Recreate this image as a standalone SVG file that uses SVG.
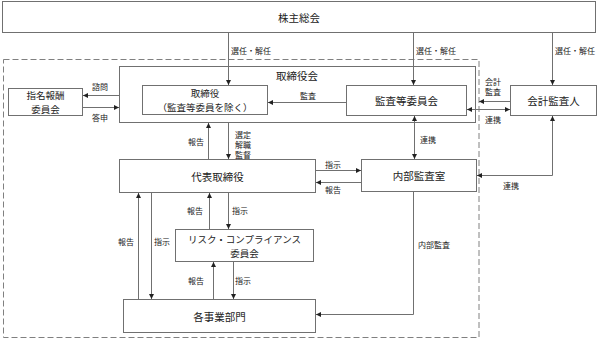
<svg xmlns="http://www.w3.org/2000/svg" width="607" height="339" viewBox="0 0 607 339">
<style>
.box{fill:#fff;stroke:#707070;stroke-width:1}
.t{font-family:"Noto Sans CJK JP","Noto Sans",sans-serif;font-size:10.5px;fill:#222;text-anchor:middle;dominant-baseline:central}
.t2{font-family:"Noto Sans CJK JP","Noto Sans",sans-serif;font-size:9.5px;fill:#222;text-anchor:middle;dominant-baseline:central}
.l{font-family:"Noto Sans CJK JP","Noto Sans",sans-serif;font-size:8px;fill:#222;dominant-baseline:central}
.c{fill:none;stroke:#707070;stroke-width:1}
</style>
<defs>
<marker id="ah" viewBox="0 0 6 6" refX="6" refY="3" markerWidth="5" markerHeight="5" orient="auto-start-reverse" markerUnits="userSpaceOnUse">
<path d="M0,0 L6,3 L0,6 Z" fill="#222"/>
</marker>
</defs>
<rect x="0" y="0" width="607" height="339" fill="#fff"/>
<rect x="3.5" y="59.5" width="475.5" height="278" fill="none" stroke="#808080" stroke-dasharray="6,3"/>
<g id="n-kabunushi"><rect class="box" x="2.5" y="1.5" width="593" height="31"/><text class="t" x="299" y="17">株主総会</text></g>
<g id="n-torishimariyakukai"><rect class="box" x="119.5" y="66.5" width="356" height="56"/><text class="t" x="297" y="75">取締役会</text></g>
<g id="n-shimei"><rect class="box" x="8.5" y="88.5" width="74" height="27"/><text class="t2" x="45.5" y="95">指名報酬</text><text class="t2" x="45.5" y="109">委員会</text></g>
<g id="n-torishimariyaku"><rect class="box" x="142.5" y="85.5" width="125" height="29"/><text class="t2" x="205" y="93">取締役</text><text class="t2" x="205" y="107">（監査等委員を除く）</text></g>
<g id="n-kansatou"><rect class="box" x="346.5" y="85.5" width="120" height="30"/><text class="t" x="406.5" y="100.5">監査等委員会</text></g>
<g id="n-kaikei"><rect class="box" x="510.5" y="85.5" width="86" height="30"/><text class="t" x="553.5" y="100.5">会計監査人</text></g>
<g id="n-daihyo"><rect class="box" x="119.5" y="159.5" width="196" height="33"/><text class="t" x="217.5" y="176">代表取締役</text></g>
<g id="n-naibu"><rect class="box" x="361.5" y="159.5" width="115" height="32"/><text class="t" x="419" y="175.5">内部監査室</text></g>
<g id="n-risk"><rect class="box" x="175.5" y="229.5" width="138" height="32"/><text class="t2" x="244.5" y="238.5">リスク・コンプライアンス</text><text class="t2" x="244.5" y="252.5">委員会</text></g>
<g id="n-jigyo"><rect class="box" x="123.5" y="299.5" width="192" height="33"/><text class="t" x="219.5" y="316">各事業部門</text></g>
<g id="connectors">
<path class="c" d="M228.5,33 V85" marker-end="url(#ah)"/>
<path class="c" d="M413.5,33 V85" marker-end="url(#ah)"/>
<path class="c" d="M552.5,33 V85" marker-end="url(#ah)"/>
<path class="c" d="M119,95.5 H83" marker-end="url(#ah)"/>
<path class="c" d="M83,107.5 H119" marker-end="url(#ah)"/>
<path class="c" d="M346,102.5 H268" marker-end="url(#ah)"/>
<path class="c" d="M510,101.5 H479" marker-end="url(#ah)"/>
<path class="c" d="M467,109.5 H510" marker-start="url(#ah)" marker-end="url(#ah)"/>
<path class="c" d="M414.5,116 V159" marker-start="url(#ah)" marker-end="url(#ah)"/>
<path class="c" d="M208.5,159 V123" marker-end="url(#ah)"/>
<path class="c" d="M228.5,123 V159" marker-end="url(#ah)"/>
<path class="c" d="M316,170.5 H361" marker-end="url(#ah)"/>
<path class="c" d="M361,182.5 H316" marker-end="url(#ah)"/>
<path class="c" d="M552.5,116 V175.5 H477" marker-start="url(#ah)" marker-end="url(#ah)"/>
<path class="c" d="M138.5,299 V193" marker-end="url(#ah)"/>
<path class="c" d="M151.5,193 V299" marker-end="url(#ah)"/>
<path class="c" d="M209.5,229 V193" marker-end="url(#ah)"/>
<path class="c" d="M228.5,193 V229" marker-end="url(#ah)"/>
<path class="c" d="M213.5,299 V262" marker-end="url(#ah)"/>
<path class="c" d="M233.5,262 V299" marker-end="url(#ah)"/>
<path class="c" d="M413.5,192 V314.5 H316" marker-end="url(#ah)"/>
</g>
<g id="labels">
<text class="l" x="231" y="50">選任・解任</text>
<text class="l" x="416" y="50">選任・解任</text>
<text class="l" x="555" y="50">選任・解任</text>
<text class="l" x="92" y="86">諮問</text>
<text class="l" x="92" y="117">答申</text>
<text class="l" x="300" y="95">監査</text>
<text class="l" x="485" y="81">会計</text>
<text class="l" x="485" y="91">監査</text>
<text class="l" x="485" y="119">連携</text>
<text class="l" x="420" y="139">連携</text>
<text class="l" x="188" y="141">報告</text>
<text class="l" x="235" y="134">選定</text>
<text class="l" x="235" y="144">解職</text>
<text class="l" x="235" y="154">監督</text>
<text class="l" x="325" y="164">指示</text>
<text class="l" x="325" y="189">報告</text>
<text class="l" x="503" y="185">連携</text>
<text class="l" x="187" y="210">報告</text>
<text class="l" x="232" y="210">指示</text>
<text class="l" x="118" y="241">報告</text>
<text class="l" x="154" y="241">指示</text>
<text class="l" x="418" y="244">内部監査</text>
<text class="l" x="188" y="280">報告</text>
<text class="l" x="235" y="280">指示</text>
</g>
</svg>
